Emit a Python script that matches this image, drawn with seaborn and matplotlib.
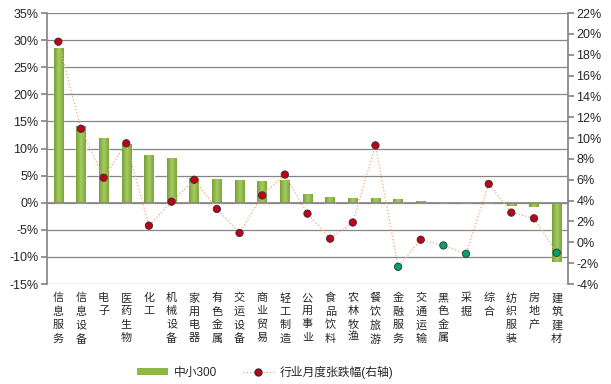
import numpy as np
import pandas as pd
import seaborn as sns
import matplotlib.pyplot as plt
from matplotlib.ticker import FuncFormatter
from matplotlib.lines import Line2D
from matplotlib.patches import Patch
from matplotlib.colors import LinearSegmentedColormap

# 行业数据 (单位: %)
sectors = ['信息服务', '信息设备', '电子', '医药生物', '化工', '机械设备', '家用电器',
           '有色金属', '交运设备', '商业贸易', '轻工制造', '公用事业', '食品饮料',
           '农林牧渔', '餐饮旅游', '金融服务', '交通运输', '黑色金属', '采掘', '综合',
           '纺织服装', '房地产', '建筑建材']
zx300 = [28.5, 14.2, 11.9, 10.8, 8.8, 8.2, 4.5, 4.4, 4.2, 4.0, 4.1, 1.6, 1.0,
         0.8, 0.8, 0.6, 0.3, -0.1, -0.1, -0.05, -0.55, -0.7, -10.9]
monthly = [19.25, 10.9, 6.2, 9.5, 1.6, 3.9, 6.0, 3.2, 0.9, 4.5, 6.5, 2.75, 0.35,
           1.9, 9.3, -2.35, 0.25, -0.3, -1.1, 5.6, 2.85, 2.3, -1.0]

sns.set_theme(style='white')
plt.rcParams['font.family'] = ['Liberation Sans', 'Noto Sans CJK SC']

df = pd.DataFrame({'sector': sectors, 'zx300': zx300, 'monthly': monthly})
df['pos'] = np.arange(len(df))
df['dir'] = np.where(df['monthly'] >= 0, 'up', 'down')

grey = '#868686'
bar_green = '#8DB843'
line_col = '#F2A779'

fig = plt.figure(figsize=(6.11, 3.84), dpi=100)
ax = fig.add_axes([0.0769, 0.2604, 0.8527, 0.7057])
sns.barplot(data=df, x='sector', y='zx300', color=bar_green, saturation=1,
            width=0.42, ax=ax, zorder=2)

# 柱子渐变效果
cyl = LinearSegmentedColormap.from_list('cyl', ['#76A136', '#A6CC62', '#7CA63A'])
grad = np.linspace(0, 1, 64).reshape(1, -1)
for p in ax.patches:
    x0, w = p.get_x(), p.get_width()
    y0, h = p.get_y(), p.get_height()
    im = ax.imshow(grad, cmap=cyl, aspect='auto', zorder=2.1,
                   extent=[x0, x0 + w, min(y0, y0 + h), max(y0, y0 + h)])
    im.set_clip_path(p)

ax.set_xlim(-0.5, len(sectors) - 0.5)
ax.set_ylim(-15, 35)
ax.set_yticks(range(-15, 36, 5))
ax.yaxis.set_major_formatter(FuncFormatter(lambda v, p: '%d%%' % v))
ax.yaxis.grid(True, color=grey, lw=0.9, zorder=0)
ax.set_axisbelow(True)
ax.set_xlabel('')
ax.set_ylabel('')

# x轴放在0刻度处
ax.spines['bottom'].set_position(('data', 0))
ax.spines['bottom'].set_color(grey)
ax.spines['left'].set_color(grey)
ax.spines['top'].set_visible(False)
ax.spines['right'].set_visible(False)
ax.set_xticks(range(len(sectors)))
ax.set_xticklabels(['\n'.join(s) for s in sectors], fontsize=8,
                   family=['Noto Sans CJK SC'], linespacing=1.4)
ax.set_xticks(np.arange(-0.5, len(sectors), 1), minor=True)
ax.tick_params(axis='x', which='major', length=0, pad=65)
ax.tick_params(axis='x', which='minor', length=4, direction='out', color=grey, width=0.8)
ax.tick_params(axis='y', length=4, direction='out', color=grey, left=True,
               labelsize=9, pad=2)

ax2 = ax.twinx()
sns.lineplot(data=df, x='pos', y='monthly', ax=ax2, color=line_col, lw=0.9,
             linestyle=':', zorder=3)
sns.scatterplot(data=df, x='pos', y='monthly', hue='dir', ax=ax2, s=28,
                palette={'up': '#C00018', 'down': '#00A070'}, edgecolor='#303030',
                linewidth=0.6, legend=False, zorder=4)
ax2.set_ylim(-4, 22)
ax2.set_yticks(range(-4, 23, 2))
ax2.yaxis.set_major_formatter(FuncFormatter(lambda v, p: '%d%%' % v))
ax2.set_xlim(-0.5, len(sectors) - 0.5)
ax2.set_ylabel('')
ax2.set_xlabel('')
ax2.grid(False)
for s in ['left', 'top', 'bottom']:
    ax2.spines[s].set_visible(False)
ax2.spines['right'].set_color(grey)
ax2.tick_params(axis='y', length=4, direction='out', color=grey, right=True,
                labelsize=9, pad=2)

handles = [Patch(facecolor=bar_green, edgecolor='none'),
           Line2D([0], [0], color=line_col, lw=0.9, linestyle=':', marker='o',
                  markersize=5, markerfacecolor='#C00018', markeredgecolor='#303030')]
fig.legend(handles, ['中小300', '行业月度张跌幅(右轴)'], loc='center',
           bbox_to_anchor=(0.434, 0.031), ncol=2, frameon=False, fontsize=8.5,
           handlelength=2.6, handleheight=0.5, handletextpad=0.5,
           columnspacing=2.2)

fig.savefig('out.png', dpi=100)
